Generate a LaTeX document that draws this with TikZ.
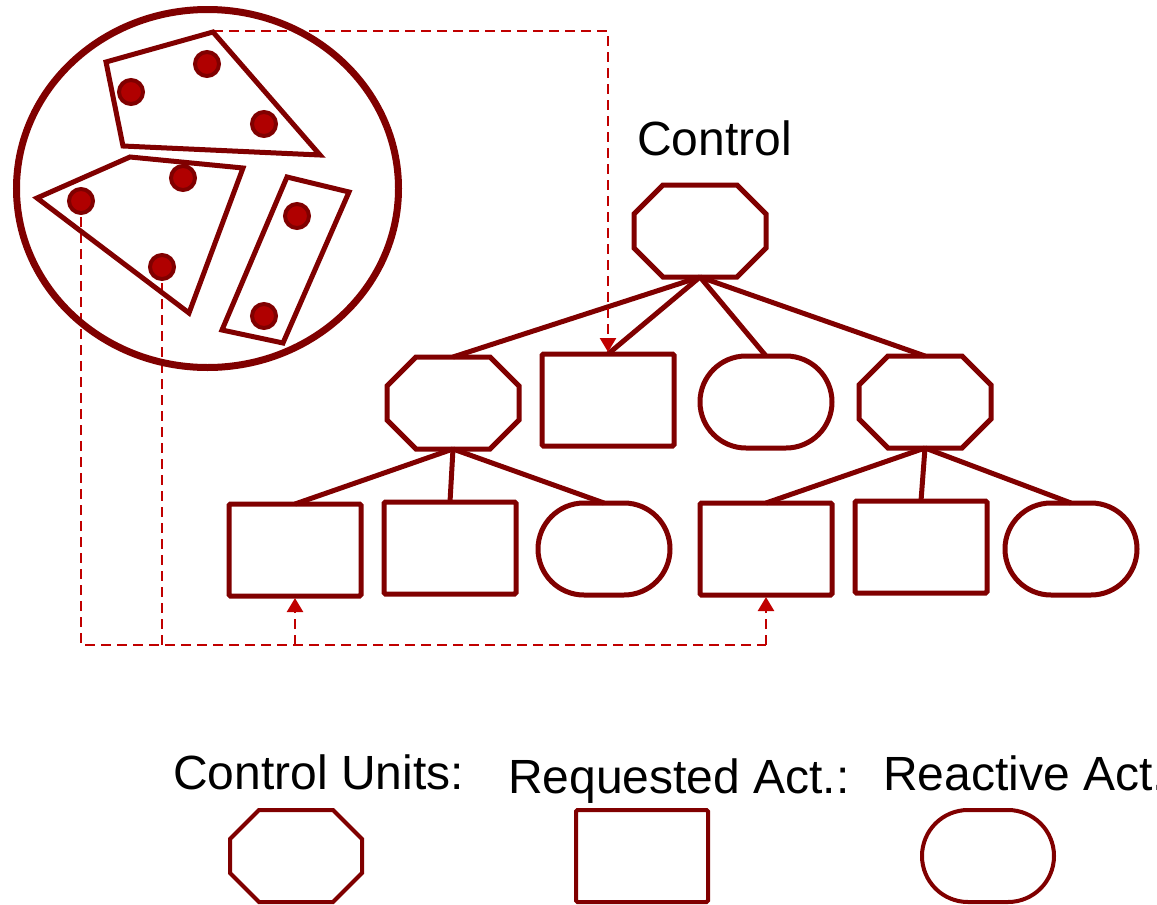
\documentclass[tikz,border=0pt]{standalone}
\usepackage{fontspec}
\setmainfont{Liberation Sans}
\usetikzlibrary{arrows.meta,calc}
\definecolor{dred}{HTML}{800000}
\definecolor{dotred}{HTML}{B00000}
\definecolor{dashred}{HTML}{C00000}
\newcommand\octunit[4]{% style, name, x, y
  \node[unitspace] (#2) at (#3,#4) {};
  \draw[#1] ([xshift=29pt]#2.north west) -- ([xshift=-29pt]#2.north east)
    -- ([yshift=-29pt]#2.north east) -- ([yshift=29pt]#2.south east)
    -- ([xshift=-29pt]#2.south east) -- ([xshift=29pt]#2.south west)
    -- ([yshift=29pt]#2.south west) -- ([yshift=-29pt]#2.north west) -- cycle;}
\begin{document}
\begin{tikzpicture}[x=1pt,y=-1pt,
  unitspace/.style={draw=none, minimum width=132pt, minimum height=92pt, inner sep=0pt, outer sep=0pt},
  shapeline/.style={draw=dred, line width=5pt, line join=miter},
  legline/.style={draw=dred, line width=4pt, line join=miter},
  reqbox/.style={unitspace, draw=dred, line width=5pt, rounded corners=1.5pt},
  reactbox/.style={unitspace, draw=dred, line width=5pt, rounded corners=46pt},
  link/.style={draw=dred, line width=5pt},
  dashlink/.style={draw=dashred, line width=2.5pt, dash pattern=on 10pt off 6pt},
  tip/.style={-{Triangle[width=16pt,length=14pt]}, shorten >=2pt},
  dot/.style={circle, draw=dred, fill=dotred, line width=4pt, minimum size=24pt, inner sep=0pt},
  lbl/.style={font=\fontsize{48}{56}\selectfont, inner sep=0pt, anchor=base west}]
\useasboundingbox (0,0) rectangle (1157,905);

% ---- tree nodes ----
\octunit{shapeline}{root}{700}{231}
\octunit{shapeline}{cuL}{453}{403}
\node[reqbox] (raA) at (608,400) {};
\node[reactbox] (rcA) at (766,402) {};
\octunit{shapeline}{cuR}{925}{402}
\node[reqbox] (ra1) at (295,550) {};
\node[reqbox] (ra2) at (450,548) {};
\node[reactbox] (rc1) at (604,549) {};
\node[reqbox] (ra3) at (766,549) {};
\node[reqbox] (ra4) at (921,547) {};
\node[reactbox] (rc2) at (1071,549) {};

\node[lbl] (ctl) at (637,155) {Control};

% ---- tree links ----
\foreach \c in {cuL,raA,rcA,cuR} \draw[link] (root.south) -- (\c.north);
\foreach \c in {ra1,ra2,rc1} \draw[link] (cuL.south) -- (\c.north);
\foreach \c in {ra3,ra4,rc2} \draw[link] (cuR.south) -- (\c.north);

% ---- coordinates in the circle ----
\coordinate (q1top) at (213,31);
\coordinate (bus) at (0,645);
\coordinate (d21) at (81,201);
\coordinate (d23) at (162,267);

% ---- dashed links ----
\draw[dashlink,tip] (q1top) -| (raA.north);
\draw[dashlink] (d21) -- (d21 |- bus) -- (ra3.south |- bus);
\draw[dashlink] (d23) -- (d23 |- bus);
\draw[dashlink,tip] (ra1.south |- bus) -- (ra1.south);
\draw[dashlink,tip] (ra3.south |- bus) -- (ra3.south);

% ---- circle and groups ----
\draw[draw=dred, line width=7pt] (207.5,188.5) ellipse [x radius=191, y radius=179];
\draw[shapeline] (106,62) -- (213,32) -- (320,155) -- (123,146) -- cycle;
\draw[shapeline] (37,198) -- (130,157) -- (243,168) -- (189,313) -- cycle;
\draw[shapeline] (287,177) -- (349,192) -- (283,343) -- (222,330) -- cycle;
\node[dot] (d11) at (131,92) {};
\node[dot] (d12) at (207,64) {};
\node[dot] (d13) at (264,124) {};
\node[dot] (d21n) at (d21) {};
\node[dot] (d22) at (183,178) {};
\node[dot] (d23n) at (d23) {};
\node[dot] (d31) at (297,216) {};
\node[dot] (d32) at (264,316) {};

% ---- legend ----
\node[lbl] (lg1) at (173,789) {Control Units:};
\node[lbl] (lg2) at (508,793) {Requested Act.:};
\node[lbl] (lg3) at (883,790) {Reactive Act.};
\octunit{legline}{lgcu}{296}{856}
\node[unitspace, draw=dred, line width=4pt, rounded corners=1.5pt] (lgra) at (642,856) {};
\node[unitspace, draw=dred, line width=4pt, rounded corners=46pt] (lgrc) at (988,856) {};
\end{tikzpicture}
\end{document}
